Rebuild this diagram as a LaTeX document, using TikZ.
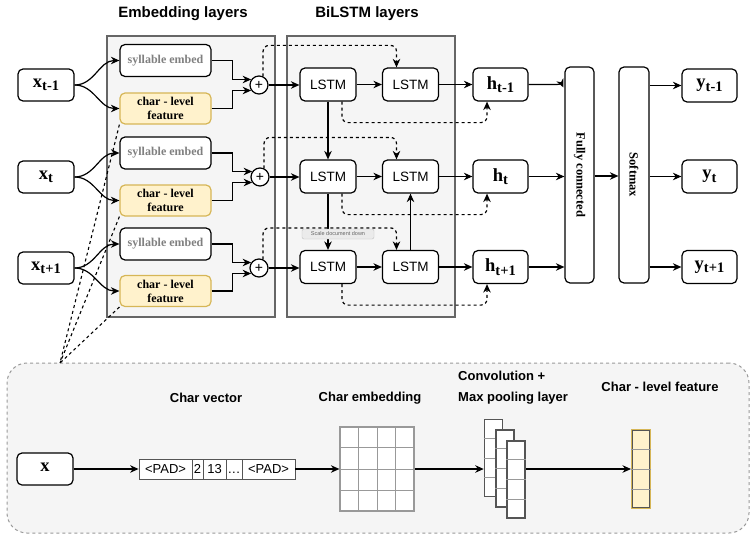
\documentclass[tikz,border=0pt]{standalone}
\usepackage{fontspec}
\setmainfont{Liberation Serif}
\setsansfont{Liberation Sans}
\usetikzlibrary{arrows.meta,calc}
\definecolor{layerfill}{HTML}{F5F5F5}
\definecolor{layerdraw}{HTML}{666666}
\definecolor{featfill}{HTML}{FFF2CC}
\definecolor{featdraw}{HTML}{D6B656}
\definecolor{sylgray}{HTML}{808080}
\definecolor{gridgray}{HTML}{999999}
\definecolor{convdraw}{HTML}{555555}
\newcommand\sublbl[2]{{\bfseries\fontsize{18.5}{20}\selectfont #1\raisebox{-3.5pt}{\fontsize{14.5}{16}\selectfont #2}}}
\begin{document}
\begin{tikzpicture}[x=1pt,y=-1pt,
  every node/.style={inner sep=0pt},
  rbox/.style={draw=black, line width=1.2pt, rounded corners=5pt, fill=white, minimum height=32pt},
  xnode/.style={rbox, minimum width=56pt},
  lstmnode/.style={rbox, minimum width=56pt, minimum height=33pt, font=\sffamily\fontsize{13.5}{15}\selectfont},
  hnode/.style={rbox, minimum width=55pt, minimum height=33pt},
  sylnode/.style={rbox, minimum width=91pt, font=\bfseries\fontsize{12}{14}\selectfont, text=sylgray},
  charnode/.style={rbox, draw=featdraw, fill=featfill, minimum width=91pt, minimum height=31pt, align=center, font=\bfseries\fontsize{12}{14}\selectfont},
  plusnode/.style={circle, draw=black, line width=1.2pt, fill=white, minimum size=18pt, font=\sffamily\fontsize{14}{14}\selectfont},
  layerbox/.style={draw=layerdraw, fill=layerfill, line width=1.2pt},
  ttl/.style={font=\sffamily\bfseries\fontsize{15}{18}\selectfont},
  subttl/.style={font=\sffamily\bfseries\fontsize{13}{16}\selectfont},
  vertbox/.style={rbox, minimum height=216pt},
  arr/.style={line width=1.2pt, -{Stealth[length=8.5pt,width=7.5pt]}},
  dsharr/.style={arr, dash pattern=on 3pt off 3pt, rounded corners=6pt},
  dsh/.style={line width=1.1pt, dash pattern=on 3pt off 3pt},
  celltxt/.style={font=\sffamily\fontsize{13}{15}\selectfont},
]
\useasboundingbox (0,0) rectangle (751,535);

% background panels
\node[layerbox, minimum width=168pt, minimum height=281pt] (emblayer) at (191,176.5) {};
\node[layerbox, minimum width=168pt, minimum height=281pt] (bilayer) at (371,176.5) {};
\node[draw=gridgray, fill=layerfill, line width=1pt, dash pattern=on 3pt off 3pt, rounded corners=20pt, minimum width=742pt, minimum height=170pt] (charpanel) at (378,448) {};

% titles
\node[ttl] (t1) at (183,14) {Embedding layers};
\node[ttl] (t2) at (367,14) {BiLSTM layers};

% inputs
\node[xnode] (xm1) at (46,85) {\sublbl{x}{t-1}};
\node[xnode] (x0) at (46,177) {\sublbl{x}{t}};
\node[xnode] (xp1) at (46,268) {\sublbl{x}{t+1}};

% embedding
\node[sylnode] (syl1) at (165.5,60.5) {syllable embed};
\node[charnode] (char1) at (165.5,108.5) {char - level\\feature};
\node[sylnode] (syl2) at (165.5,153) {syllable embed};
\node[charnode] (char2) at (165.5,200.5) {char - level\\feature};
\node[sylnode] (syl3) at (165.5,244) {syllable embed};
\node[charnode] (char3) at (165.5,291) {char - level\\feature};

\node[plusnode] (p1) at (259,85) {+};
\node[plusnode] (p2) at (260,177) {+};
\node[plusnode] (p3) at (259,268) {+};

% LSTMs
\node[lstmnode] (f1) at (328,84.5) {LSTM};
\node[lstmnode] (b1) at (410.5,84.5) {LSTM};
\node[lstmnode] (f2) at (328,176.5) {LSTM};
\node[lstmnode] (b2) at (410.5,176.5) {LSTM};
\node[lstmnode] (f3) at (328,267) {LSTM};
\node[lstmnode] (b3) at (410.5,267) {LSTM};

\node[hnode] (h1) at (500.5,84.5) {\sublbl{h}{t-1}};
\node[hnode] (h2) at (500.5,176.5) {\sublbl{h}{t}};
\node[hnode] (h3) at (500.5,267) {\sublbl{h}{t+1}};

\node[vertbox, minimum width=29pt] (fc) at (579.5,175) {};
\node[rotate=-90, font=\bfseries\fontsize{12.5}{14}\selectfont] (fclbl) at (fc) {Fully connected};
\node[vertbox, minimum width=30pt] (sm) at (634,175) {};
\node[rotate=-90, font=\bfseries\fontsize{12.5}{14}\selectfont] (smlbl) at (sm) {Softmax};

\node[hnode] (y1) at (709.5,85.5) {\sublbl{y}{t-1}};
\node[hnode] (y2) at (709.5,176.5) {\sublbl{y}{t}};
\node[hnode] (y3) at (709.5,267) {\sublbl{y}{t+1}};

% input curves
\foreach \x/\s/\c in {xm1/syl1/char1, x0/syl2/char2, xp1/syl3/char3}{
  \draw[arr] (\x.east) to[out=0,in=180] (\s.west);
  \draw[arr] (\x.east) to[out=0,in=180] (\c.west);
}
% to plus
\foreach \s/\c/\p in {syl1/char1/p1, syl2/char2/p2, syl3/char3/p3}{
  \draw[arr] (\s.east) -- ([xshift=21pt]\s.east) |- (\p.145);
  \draw[arr] (\c.east) -- ([xshift=21pt]\c.east) |- (\p.215);
}
% plus to forward LSTM
\foreach \p/\f in {p1/f1, p2/f2, p3/f3}{
  \draw[arr] (\p.east) -- (\p.east -| \f.west);
}
% plus dashed to backward LSTM
\foreach \p/\b in {p1/b1, p2/b2, p3/b3}{
  \draw[dsharr] (\p.65) |- ($(\b.north)+(-14,-22)$) -- ($(\b.north)+(-14,0)$);
}
% forward to backward, backward to h
\foreach \f/\b/\h in {f1/b1/h1, f2/b2/h2, f3/b3/h3}{
  \draw[arr] (\f.east) -- (\b.west);
  \draw[arr] (\b.east) -- (\h.west);
  \draw[dsharr] ($(\f.south)+(14,0)$) |- ($(\h.south)+(-13.5,21)$) -- ($(\h.south)+(-13.5,0)$);
}
\draw[arr] (f1.south) -- (f2.north);
\draw[arr] (f2.south) -- (f3.north);
\draw[arr] (b3.north) -- (b2.south);

% h to FC
\draw[arr] (h1.east) -- ++(26,0) to[out=0,in=115] ($(h1.east -| fc.west)+(-1,3)$);
\draw[arr] (h2.east) -- (h2.east -| fc.west);
\draw[arr] (h3.east) -- (h3.east -| fc.west);
\draw[arr] ([yshift=-1pt]fc.east) -- ([yshift=-1pt]fc.east -| sm.west);
\draw[arr] (sm.east |- y1.west) -- (y1.west);
\draw[arr] (sm.east |- y2.west) -- (y2.west);
\draw[arr] (sm.east |- y3.west) -- (y3.west);

% tooltip
\node[draw=gridgray!60, fill=black!8, rounded corners=2pt, minimum width=72pt, minimum height=10pt, text=black!60, font=\sffamily\fontsize{5.5}{6}\selectfont] (tip) at (338,234) {Scale document down};

% dashed links to bottom panel
\coordinate (cp) at (60,363);
\draw[dsh] (char1.south west) -- (cp);
\draw[dsh] (char2.south west) -- (cp);
\draw[dsh] (char3.south west) -- (cp);

% bottom panel
\node[subttl] (cvt) at (206,398) {Char vector};
\node[subttl] (cet) at (370,398) {Char embedding};
\node[subttl, anchor=west, align=left, font=\sffamily\bfseries\fontsize{13}{21}\selectfont] (cmt) at (458,387.5) {Convolution +\\Max pooling layer};
\node[subttl] (clt) at (660,387) {Char - level feature};

\node[xnode] (xb) at (45,469) {\sublbl{x}{}};

\node[draw=convdraw, line width=0.8pt, fill=white, minimum width=156pt, minimum height=20pt] (cv) at (217,469) {};
\foreach \xx in {192,203,226,242}{
  \draw[convdraw, line width=0.8pt] (\xx,459) -- (\xx,479);
}
\node[celltxt] (c1) at (165.5,469) {<PAD>};
\node[celltxt] (c2) at (197.5,469) {2};
\node[celltxt] (c3) at (214.5,469) {13};
\node[celltxt, anchor=base] (c4) at (234,473.5) {.\kern0.5pt.\kern0.5pt.};
\node[celltxt] (c5) at (268.5,469) {<PAD>};

\node[draw=gridgray, line width=1.2pt, fill=white, minimum width=74pt, minimum height=84pt] (emb) at (377,469) {};
\foreach \t in {0.25,0.5,0.75}{
  \draw[gridgray, line width=0.8pt] ($(emb.north west)!\t!(emb.north east)$) -- ($(emb.south west)!\t!(emb.south east)$);
  \draw[gridgray, line width=0.8pt] ($(emb.north west)!\t!(emb.south west)$) -- ($(emb.north east)!\t!(emb.south east)$);
}

\foreach \n/\cx/\cy in {conv1/493.5/458, conv2/505/468.5, conv3/516/479.5}{
  \node[draw=convdraw, line width=1.6pt, fill=white, minimum width=18pt, minimum height=77pt] (\n) at (\cx,\cy) {};
  \foreach \t in {0.25,0.5,0.75}{
    \draw[gridgray, line width=0.8pt] ($(\n.north west)!\t!(\n.south west)$) -- ($(\n.north east)!\t!(\n.south east)$);
  }
}

\node[draw=featdraw, line width=2pt, fill=featfill, minimum width=18pt, minimum height=78pt] (feat) at (641,469) {};
\draw[convdraw, line width=0.8pt] ($(feat.north west)+(1.5,1.5)$) rectangle ($(feat.south east)+(-1.5,-1.5)$);
\foreach \t in {0.25,0.5,0.75}{
  \draw[gridgray, line width=0.8pt] ($(feat.north west)!\t!(feat.south west)$) -- ($(feat.north east)!\t!(feat.south east)$);
}

\draw[arr] (xb.east) -- (cv.west);
\draw[arr] (cv.east) -- (emb.west);
\draw[arr] (emb.east) -- (emb.east -| conv1.west);
\draw[arr] (conv3.east |- emb.east) -- (emb.east -| feat.west);
\end{tikzpicture}
\end{document}
